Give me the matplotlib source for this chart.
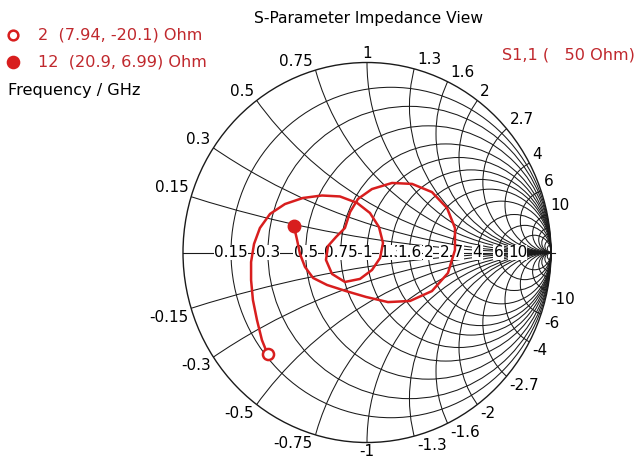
import numpy as np
import matplotlib.pyplot as plt
from matplotlib.patches import Circle

# Smith chart grid, normalised to 50 Ohm
z0 = 50.0
r_labels = [0.15, 0.3, 0.5, 0.75, 1, 1.3, 1.6, 2, 2.7, 4, 6, 10]
x_labels = [0.15, 0.3, 0.5, 0.75, 1, 1.3, 1.6, 2, 2.7, 4, 6, 10]
x_extra = [15, 20, 30, 50]

# markers (frequency in GHz, impedance in Ohm)
marker_freq = ['2', '12']
marker_R = [7.94, 20.9]
marker_X = [-20.1, 6.99]

# S1,1 trace between the two markers (reflection coefficient)
trace_re = [-0.571, -0.598, -0.620, -0.630, -0.630, -0.614, -0.582, -0.527, -0.446,
            -0.348, -0.245, -0.147, -0.054, 0.016, 0.065, 0.087,
            0.071, 0.027, -0.038, -0.120, -0.190, -0.223, -0.212, -0.168, -0.120,
            -0.092, -0.049, 0.027, 0.136, 0.245, 0.353, 0.435, 0.478, 0.478, 0.440,
            0.353, 0.234, 0.114, -0.005, -0.114, -0.217, -0.293, -0.337, -0.364, -0.380]
trace_im = [-0.461, -0.355, -0.250, -0.145, -0.050, 0.045, 0.129, 0.203, 0.255,
            0.287, 0.300, 0.295, 0.261, 0.208, 0.134, 0.050,
            -0.029, -0.092, -0.139, -0.155, -0.113, -0.039, 0.034, 0.082, 0.129,
            0.213, 0.282, 0.334, 0.366, 0.361, 0.318, 0.234, 0.129, 0.013, -0.108,
            -0.203, -0.255, -0.261, -0.234, -0.203, -0.171, -0.134, -0.076, -0.008, 0.066]


def gamma(z):
    return (z - 1) / (z + 1)


W, H = 639, 466
red = '#d81e1e'
txt_red = '#c0282d'
gc = '#1a1a1a'

fig = plt.figure(figsize=(W / 100, H / 100), dpi=100)
ax = fig.add_axes([146.2 / W, 4.5 / H, 441.6 / W, 418 / H])
ax.set_xlim(-1.2, 1.2)
ax.set_ylim(-1.1, 1.1)
ax.axis('off')

clip = Circle((0, 0), 1, transform=ax.transData)

for r in r_labels:
    ax.add_patch(Circle((r / (1 + r), 0), 1 / (1 + r), fill=False, lw=0.75, ec=gc))
for x in x_labels + x_extra:
    for s in (1, -1):
        c = Circle((1, s / x), 1 / x, fill=False, lw=0.75, ec=gc)
        ax.add_patch(c)
        c.set_clip_path(clip)
ax.add_patch(Circle((0, 0), 1, fill=False, lw=1.0, ec=gc))
ax.plot([-1, 1.02], [0, 0], color=gc, lw=0.8)

# labels on the real axis
for r in r_labels:
    ax.text(gamma(r), 0, f'{r:g}', ha='center', va='center', fontsize=11,
            bbox=dict(boxstyle='square,pad=0.02', fc='white', ec='none'), zorder=3)

# reactance labels around the rim
for x in x_labels:
    for s in (1, -1):
        g = gamma(complex(0, s * x))
        if g.real > 0.1:
            ha, dx = 'left', 2
        elif g.real < -0.1:
            ha, dx = 'right', -2
        else:
            ha, dx = 'center', 0
        va, dy = ('bottom', 1) if s > 0 else ('top', -1)
        ax.annotate(f'{s * x:g}', (g.real, g.imag), xytext=(dx, dy),
                    textcoords='offset points', ha=ha, va=va, fontsize=11,
                    annotation_clip=False)

# trace and markers
mk = [gamma(complex(R, X) / z0) for R, X in zip(marker_R, marker_X)]
tr = np.concatenate([[mk[0].real], trace_re, [mk[1].real]])
ti = np.concatenate([[mk[0].imag], trace_im, [mk[1].imag]])
ax.plot(tr, ti, color=red, lw=1.8, zorder=4)
ax.plot(mk[0].real, mk[0].imag, 'o', ms=8, mfc='white', mec=red, mew=1.8, zorder=5)
ax.plot(mk[1].real, mk[1].imag, 'o', ms=9, mfc=red, mec=red, zorder=5)

# header and legend
fig.text(369 / W, 1 - 19 / H, 'S-Parameter Impedance View', ha='center', va='center',
         fontsize=11.2)
fig.text(502 / W, 1 - 55 / H, 'S1,1 (   50 Ohm)', ha='left', va='center', fontsize=11.6,
         color=txt_red)
for i, (f, R, X) in enumerate(zip(marker_freq, marker_R, marker_X)):
    y = 1 - (35 + 27 * i) / H
    fig.text(38 / W, y, f'{f}  ({R:g}, {X:g}) Ohm', ha='left', va='center',
             fontsize=11.6, color=txt_red)
    fill = 'white' if i == 0 else red
    ax.plot([13 / W], [y], 'o', ms=7 + i, mfc=fill, mec=red, mew=1.8,
            transform=fig.transFigure, clip_on=False)
fig.text(8 / W, 1 - 90 / H, 'Frequency / GHz', ha='left', va='center', fontsize=11.6)

fig.savefig('out.png', dpi=100)
